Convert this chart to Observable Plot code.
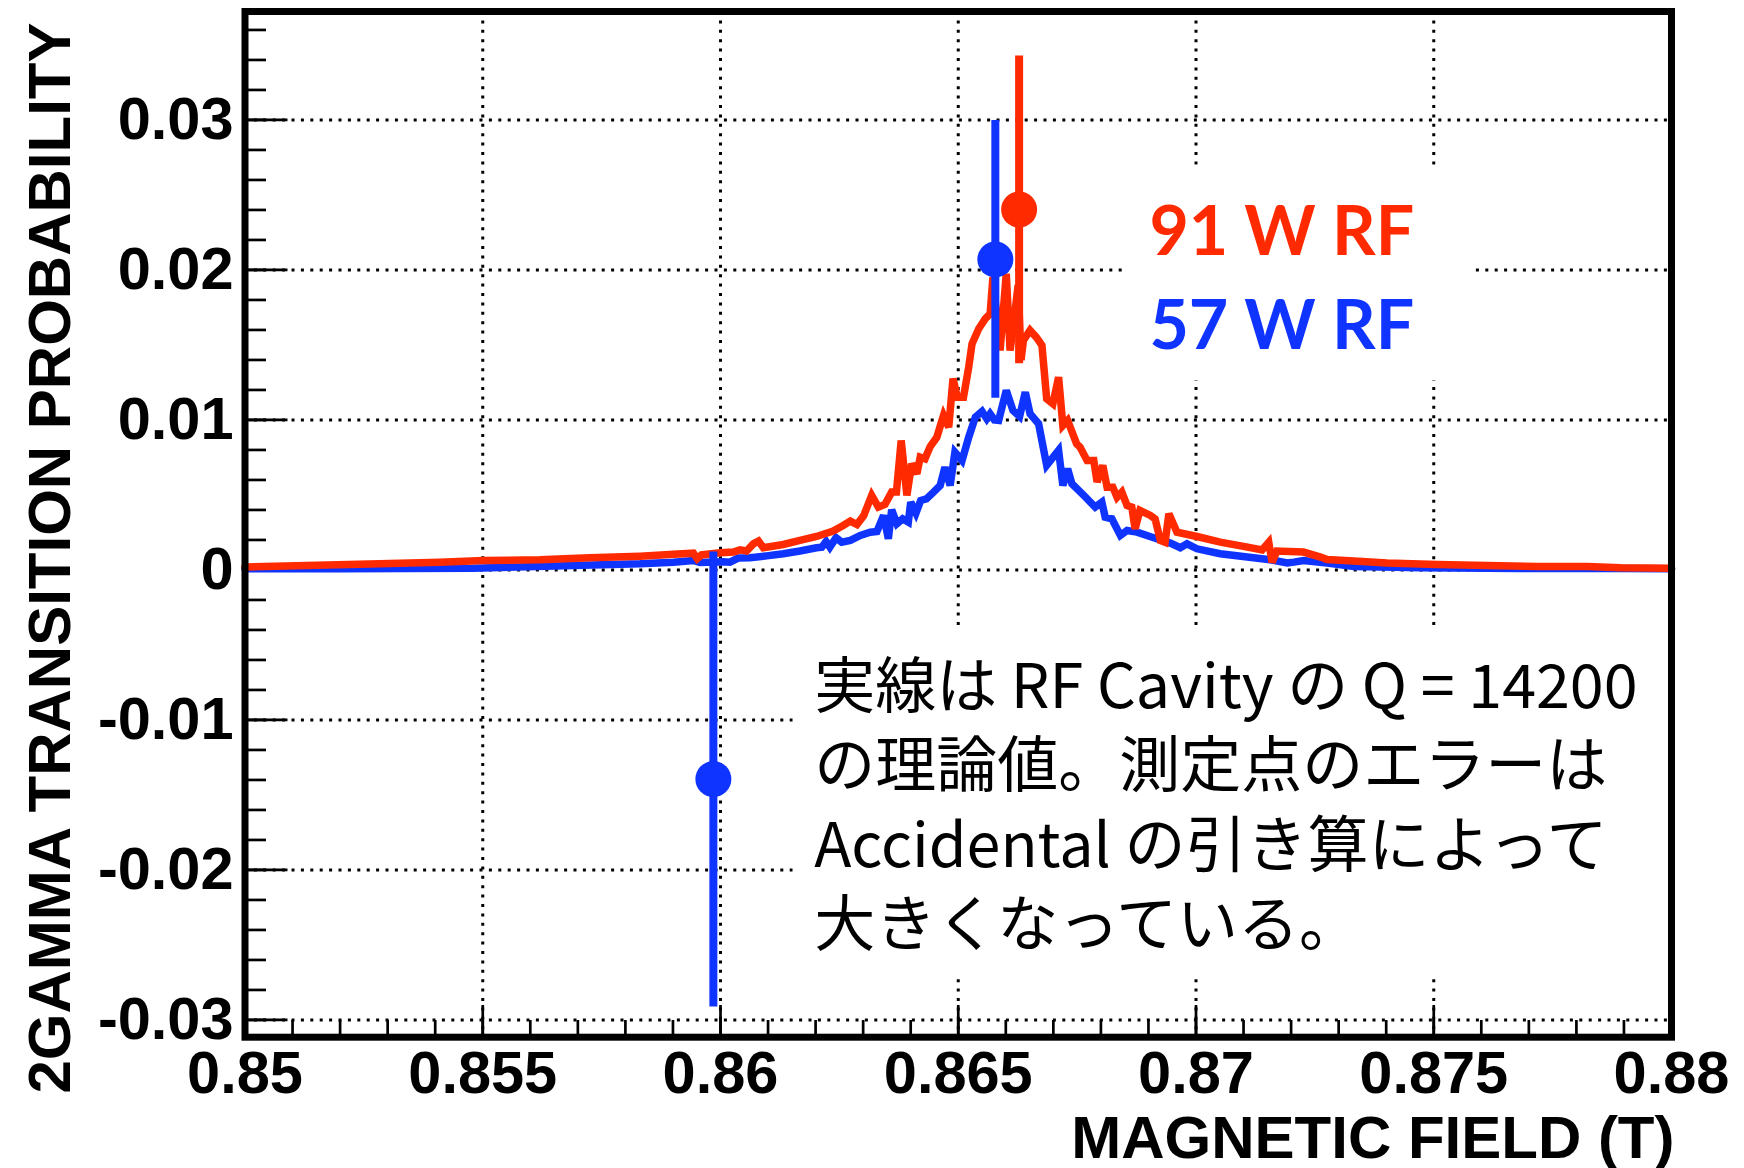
<!DOCTYPE html>
<html>
<head>
<meta charset="utf-8">
<script src="https://cdn.jsdelivr.net/npm/d3@7"></script>
<script src="https://cdn.jsdelivr.net/npm/@observablehq/plot@0.6"></script>
<style>
  html, body { margin: 0; padding: 0; background: #fff; }
  #chart svg { display: block; }
</style>
</head>
<body>
<div id="chart"></div>
<script>
// ---------------- data ----------------
// Theory curve, 91 W RF: magnetic field (T) and 2-gamma transition probability
const redField = [0.85000,0.85129,0.85283,0.85410,0.85501,0.85620,0.85725,0.85831,0.85901,0.85943,0.85951,0.85960,0.85999,0.86027,0.86041,0.86055,0.86069,0.86080,0.86090,0.86132,0.86167,0.86202,0.86237,0.86258,0.86273,0.86287,0.86301,0.86318,0.86332,0.86346,0.86360,0.86370,0.86380,0.86392,0.86402,0.86413,0.86420,0.86430,0.86441,0.86455,0.86469,0.86480,0.86489,0.86498,0.86511,0.86522,0.86529,0.86543,0.86557,0.86567,0.86573,0.86588,0.86601,0.86609,0.86618,0.86626,0.86632,0.86637,0.86651,0.86664,0.86676,0.86686,0.86699,0.86711,0.86720,0.86730,0.86749,0.86756,0.86771,0.86785,0.86792,0.86804,0.86813,0.86825,0.86834,0.86844,0.86855,0.86865,0.86872,0.86882,0.86904,0.86914,0.86925,0.86935,0.86943,0.86960,0.87002,0.87051,0.87100,0.87139,0.87153,0.87160,0.87170,0.87226,0.87262,0.87276,0.87332,0.87402,0.87507,0.87612,0.87718,0.87823,0.87893,0.88000];
const redProb = [0.00019,0.00030,0.00041,0.00052,0.00063,0.00068,0.00081,0.00092,0.00104,0.00112,0.00075,0.00100,0.00115,0.00119,0.00134,0.00126,0.00174,0.00192,0.00148,0.00170,0.00197,0.00223,0.00259,0.00297,0.00326,0.00303,0.00361,0.00497,0.00419,0.00437,0.00519,0.00519,0.00863,0.00497,0.00708,0.00641,0.00752,0.00741,0.00823,0.00885,0.01030,0.00952,0.01275,0.01152,0.01152,0.01352,0.01508,0.01608,0.01675,0.01708,0.01952,0.01463,0.01975,0.01463,0.01685,0.01900,0.01400,0.01530,0.01597,0.01552,0.01497,0.01141,0.01108,0.01285,0.00963,0.00997,0.00841,0.00819,0.00730,0.00730,0.00586,0.00697,0.00552,0.00552,0.00485,0.00519,0.00430,0.00419,0.00274,0.00397,0.00363,0.00340,0.00197,0.00185,0.00374,0.00252,0.00223,0.00185,0.00157,0.00134,0.00185,0.00052,0.00126,0.00119,0.00086,0.00070,0.00059,0.00046,0.00037,0.00030,0.00023,0.00023,0.00014,0.00012];

// Theory curve, 57 W RF
const blueField = [0.85000,0.85200,0.85480,0.85690,0.85831,0.85901,0.85943,0.85957,0.86006,0.86020,0.86037,0.86062,0.86097,0.86132,0.86167,0.86202,0.86213,0.86222,0.86230,0.86243,0.86255,0.86273,0.86294,0.86315,0.86329,0.86343,0.86353,0.86360,0.86371,0.86383,0.86395,0.86400,0.86411,0.86421,0.86433,0.86448,0.86462,0.86472,0.86483,0.86493,0.86508,0.86522,0.86536,0.86550,0.86560,0.86567,0.86576,0.86585,0.86601,0.86615,0.86629,0.86641,0.86651,0.86669,0.86686,0.86711,0.86720,0.86730,0.86739,0.86764,0.86788,0.86802,0.86809,0.86823,0.86841,0.86855,0.86876,0.86911,0.86946,0.86967,0.86981,0.87002,0.87051,0.87121,0.87156,0.87192,0.87206,0.87226,0.87276,0.87332,0.87472,0.87683,0.87893,0.88000];
const blueProb = [0.00008,0.00008,0.00012,0.00030,0.00041,0.00052,0.00063,0.00050,0.00055,0.00052,0.00079,0.00081,0.00094,0.00108,0.00126,0.00148,0.00152,0.00190,0.00152,0.00215,0.00185,0.00197,0.00230,0.00252,0.00257,0.00363,0.00208,0.00401,0.00308,0.00341,0.00319,0.00452,0.00379,0.00463,0.00474,0.00519,0.00563,0.00685,0.00563,0.00785,0.00730,0.00885,0.01019,0.01057,0.01008,0.01041,0.01000,0.00997,0.01197,0.01063,0.01023,0.01185,0.01041,0.00975,0.00697,0.00797,0.00563,0.00675,0.00575,0.00497,0.00419,0.00452,0.00352,0.00341,0.00230,0.00263,0.00252,0.00215,0.00179,0.00148,0.00174,0.00141,0.00108,0.00081,0.00068,0.00046,0.00052,0.00063,0.00046,0.00023,0.00014,0.00010,0.00010,0.00008];

// Measured points with error bars
const pointSeries = ["57 W", "57 W", "91 W"];
const pointField  = [0.85985, 0.86578, 0.86628];
const pointProb   = [-0.01394, 0.02070, 0.02403];
const pointLow    = [-0.02913, 0.01145, 0.01375];
const pointHigh   = [0.00120, 0.02996, 0.03426];

// Axes and text
const xTicks = [0.85, 0.855, 0.86, 0.865, 0.87, 0.875, 0.88];
const yTicks = [-0.03, -0.02, -0.01, 0, 0.01, 0.02, 0.03];
const xTitle = "MAGNETIC FIELD (T)";
const yTitle = "2GAMMA TRANSITION PROBABILITY";
const legendLabels = ["91 W RF", "57 W RF"];
const legendSeries = ["91 W", "57 W"];
const noteText = "実線は RF Cavity の Q = 14200\nの理論値。測定点のエラーは\nAccidental の引き算によって\n大きくなっている。";

// ---------------- layout & style ----------------
const W = 1744, H = 1168;
const M = {left: 244.5, right: 73, top: 11, bottom: 131.3};
const xDomain = [0.85, 0.88];
const yDomain = [-0.03115, 0.03723];
const colors = {"91 W": "#ff2a00", "57 W": "#1034ff"};
const innerW = W - M.left - M.right;
const innerH = H - M.top - M.bottom;
// annotation anchors (data space)
const legendX = 0.86902, legendY = [0.020967, 0.014747];
const legendBox = {x1: 0.86852, x2: 0.87579, y1: 0.01263, y2: 0.02697};
const noteX = 0.86197, noteY = -0.02510;
const noteBox = {x1: 0.86153, x2: 0.88, y1: -0.02703, y2: -0.0039};

const xMinor = d3.range(0, 31).map(i => +(0.85 + i * 0.001).toFixed(3));
const yMinor = d3.range(-15, 19).map(i => +(i * 0.002).toFixed(3));
const xGrid = xTicks.slice(1, -1);

const red = redField.map((b, i) => ({b, p: redProb[i], s: "91 W"}));
const blue = blueField.map((b, i) => ({b, p: blueProb[i], s: "57 W"}));
const pts = pointField.map((b, i) => ({b, p: pointProb[i], lo: pointLow[i], hi: pointHigh[i], s: pointSeries[i]}));
const legend = legendLabels.map((t, i) => ({t, y: legendY[i], s: legendSeries[i]}));

const yFmt = d => d === 0 ? "0" : (d < 0 ? "-" : "") + Math.abs(d).toFixed(2);
const xFmt = d => String(+d.toFixed(3));

const dots = "3,6.4";

const chart = Plot.plot({
  width: W, height: H,
  marginLeft: M.left, marginRight: M.right, marginTop: M.top, marginBottom: M.bottom,
  x: {domain: xDomain},
  y: {domain: yDomain},
  style: {fontFamily: "'Liberation Sans', Arial, Helvetica, sans-serif", background: "#fff", overflow: "visible"},
  marks: [
    // dotted grid
    Plot.ruleX(xGrid, {x: d => d, stroke: "black", strokeWidth: 3, strokeDasharray: dots}),
    Plot.ruleY(yTicks, {y: d => d, stroke: "black", strokeWidth: 3, strokeDasharray: dots}),
    // white text boxes hiding the grid
    Plot.rect([legendBox], {x1: "x1", x2: "x2", y1: "y1", y2: "y2", fill: "white"}),
    Plot.rect([noteBox], {x1: "x1", x2: "x2", y1: "y1", y2: "y2", fill: "white"}),
    // inner ticks
    Plot.ruleY(yMinor, {y: d => d, insetRight: innerW - 21.5, stroke: "black", strokeWidth: 2.7}),
    Plot.ruleY(yTicks, {y: d => d, insetRight: innerW - 43, stroke: "black", strokeWidth: 2.7}),
    Plot.ruleX(xMinor, {x: d => d, insetTop: innerH - 16.7, stroke: "black", strokeWidth: 2.7}),
    Plot.ruleX(xTicks, {x: d => d, insetTop: innerH - 31.7, stroke: "black", strokeWidth: 2.7}),
    // theory curves
    Plot.line(blue, {x: "b", y: "p", stroke: colors["57 W"], strokeWidth: 7.5, strokeLinejoin: "miter", strokeMiterlimit: 3}),
    Plot.line(red, {x: "b", y: "p", stroke: colors["91 W"], strokeWidth: 7.5, strokeLinejoin: "miter", strokeMiterlimit: 3}),
    // measured points
    Plot.ruleX(pts, {x: "b", y1: "lo", y2: "hi", stroke: d => colors[d.s], strokeWidth: 8}),
    Plot.dot(pts, {x: "b", y: "p", r: 18, fill: d => colors[d.s], stroke: "none"}),
    // axes
    Plot.axisX({ticks: xTicks, tickSize: 0, tickPadding: 14, tickFormat: xFmt, fontSize: 59.5, fontWeight: "bold", label: null}),
    Plot.axisY({ticks: yTicks, tickSize: 0, tickPadding: 11.5, tickFormat: yFmt, fontSize: 59.5, fontWeight: "bold", label: null}),
    Plot.text([xTitle], {frameAnchor: "bottom-right", textAnchor: "end", lineAnchor: "bottom", dx: 3, dy: 120.3, fontSize: 60, fontWeight: "bold", fill: "black"}),
    Plot.text([yTitle], {frameAnchor: "top-left", rotate: -90, textAnchor: "end", lineAnchor: "bottom", dx: 69 - M.left, dy: 22 - M.top, fontSize: 60, fontWeight: "bold", fill: "black"}),
    // legend text
    Plot.text(legend, {x: () => legendX, y: "y", text: "t", textAnchor: "start", lineAnchor: "bottom", fill: d => colors[d.s], fontSize: 68, fontWeight: "bold", fontFamily: "Lato, 'Noto Sans', sans-serif"}),
    // note
    Plot.text([noteText], {x: () => noteX, y: () => noteY, textAnchor: "start", lineAnchor: "bottom", lineHeight: 1.303, fontSize: 61, fill: "black", fontFamily: "'Noto Sans CJK JP', sans-serif"}),
    // frame
    Plot.frame({stroke: "black", strokeWidth: 7})
  ]
});
document.getElementById("chart").appendChild(chart);
</script>
</body>
</html>
